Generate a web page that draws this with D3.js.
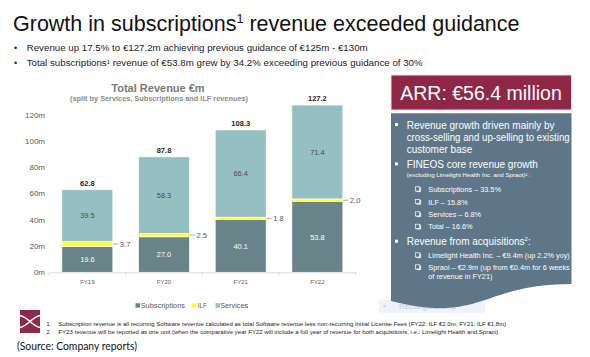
<!DOCTYPE html>
<html>
<head>
<meta charset="utf-8">
<script src="https://cdn.jsdelivr.net/npm/d3@7"></script>
<style>
html,body{margin:0;padding:0;background:#fff;}
svg{display:block;font-family:"Liberation Sans",Arial,sans-serif;}
</style>
</head>
<body>
<script>
// ---- data ----
const categories = ["FY19", "FY20", "FY21", "FY22"];
const subscriptions = [19.6, 27.0, 40.1, 53.8];
const ilf = [3.7, 2.5, 1.8, 2.0];
const services = [39.5, 58.3, 66.4, 71.4];
const totals = [62.8, 87.8, 108.3, 127.2];
const yTicks = [0, 20, 40, 60, 80, 100, 120];
const seriesNames = ["Subscriptions", "ILF", "Services"];

const W = 590, H = 357;
const svg = d3.select("body").append("svg").attr("width", W).attr("height", H);

const colors = {Subscriptions: "#698488", ILF: "#ffff3c", Services: "#95bfc1"};

// ---- heading ----
const title = svg.append("text").attr("x", 13).attr("y", 30.5)
  .attr("font-size", 21.5).attr("fill", "#111");
title.append("tspan").text("Growth in subscriptions");
title.append("tspan").text("1").attr("font-size", 12.5).attr("dy", -8);
title.append("tspan").text(" revenue exceeded guidance").attr("dy", 8);

const bullets = [
  {t: "Revenue up 17.5% to €127.2m achieving previous guidance of €125m - €130m", y: 50.8, len: 341},
  {t: "Total subscriptions¹ revenue of €53.8m grew by 34.2% exceeding previous guidance of 30%", y: 66.4, len: 396}
];
bullets.forEach(b => {
  svg.append("text").attr("x", 14).attr("y", b.y).attr("font-size", 9).attr("fill", "#222").text("•");
  svg.append("text").attr("x", 26.7).attr("y", b.y).attr("font-size", 9.2).attr("fill", "#222")
    .attr("textLength", b.len).attr("lengthAdjust", "spacingAndGlyphs").text(b.t);
});

// ---- chart ----
const x = d3.scaleBand().domain(categories).range([49, 355.7]).paddingInner(0.335).paddingOuter(0.1675);
const y = d3.scaleLinear().domain([0, 120]).range([272.3, 114.5]);

svg.append("text").attr("x", 158).attr("y", 92.3).attr("text-anchor", "middle")
  .attr("font-size", 11).attr("font-weight", "bold").attr("fill", "#7a7a7a").text("Total Revenue €m");
svg.append("text").attr("x", 159).attr("y", 101.2).attr("text-anchor", "middle")
  .attr("font-size", 6.3).attr("font-weight", "bold").attr("fill", "#8a8a8a")
  .attr("textLength", 178).attr("lengthAdjust", "spacingAndGlyphs")
  .text("(split by Services, Subscriptions and ILF revenues)");

// y axis
const yAxis = d3.axisLeft(y).tickValues(yTicks).tickFormat(d => d + "m").tickSize(0).tickPadding(4);
const gy = svg.append("g").attr("transform", "translate(49,0)").call(yAxis);
gy.select(".domain").remove();
gy.selectAll("text").attr("font-size", 8).attr("fill", "#595959").attr("font-family", "Liberation Sans, Arial, sans-serif");

// x axis
const xAxis = d3.axisBottom(x).tickSize(0).tickPadding(7);
const gx = svg.append("g").attr("transform", `translate(0,${y(0)})`).call(xAxis);
gx.select(".domain").attr("stroke", "#d9d9d9");
gx.selectAll("text").attr("font-size", 6).attr("fill", "#595959").attr("font-family", "Liberation Sans, Arial, sans-serif");
const step = x.step();
const boundaries = d3.range(categories.length + 1).map(i => x(categories[0]) - x.paddingOuter() * step - 0 + i * step - (i === 0 ? 0 : 0));
// boundaries between categories
const b0 = x.range()[0];
d3.range(categories.length + 1).forEach(i => {
  svg.append("line").attr("x1", b0 + i * step).attr("x2", b0 + i * step)
    .attr("y1", y(0)).attr("y2", y(0) + 3).attr("stroke", "#d9d9d9");
});

// stacked bars
const table = categories.map((c, i) => ({cat: c, Subscriptions: subscriptions[i], ILF: ilf[i], Services: services[i]}));
const stacked = d3.stack().keys(seriesNames)(table);
svg.append("g").selectAll("g").data(stacked).join("g")
  .attr("fill", d => colors[d.key])
  .selectAll("rect").data(d => d).join("rect")
  .attr("x", d => x(d.data.cat))
  .attr("width", x.bandwidth())
  .attr("y", d => y(d[1]))
  .attr("height", d => y(d[0]) - y(d[1]))
  .attr("stroke", "#fff").attr("stroke-width", 0.7);

// inner labels
stacked.forEach(s => {
  if (s.key === "ILF") return;
  s.forEach(d => {
    svg.append("text").attr("x", x(d.data.cat) + x.bandwidth() / 2)
      .attr("y", (y(d[0]) + y(d[1])) / 2 + 2.7)
      .attr("text-anchor", "middle").attr("font-size", 7.4)
      .attr("fill", s.key === "Subscriptions" ? "#ffffff" : "#4a4a4a")
      .text(d.data[s.key].toFixed(1));
  });
});

// ILF leader labels
stacked[1].forEach(d => {
  const yc = (y(d[0]) + y(d[1])) / 2;
  const xr = x(d.data.cat) + x.bandwidth();
  svg.append("line").attr("x1", xr + 0.5).attr("x2", xr + 5.5).attr("y1", yc).attr("y2", yc)
    .attr("stroke", "#8c8c8c").attr("stroke-width", 0.7);
  svg.append("text").attr("x", xr + 7).attr("y", yc + 2.7).attr("font-size", 7.6)
    .attr("fill", "#595959").text(d.data.ILF.toFixed(1));
});

// totals
categories.forEach((c, i) => {
  svg.append("text").attr("x", x(c) + x.bandwidth() / 2).attr("y", y(totals[i]) - 4)
    .attr("text-anchor", "middle").attr("font-size", 7.5).attr("font-weight", "bold")
    .attr("fill", "#262626").text(totals[i].toFixed(1));
});

// legend
const legendPos = [{sx: 135.5, tx: 140.7, w: 44.3}, {sx: 192, tx: 197.8, w: 9}, {sx: 215.5, tx: 220.2, w: 28}];
seriesNames.forEach((n, i) => {
  const p = legendPos[i];
  svg.append("rect").attr("x", p.sx).attr("y", 303.2).attr("width", 4.5).attr("height", 4.5).attr("fill", colors[n]);
  svg.append("text").attr("x", p.tx).attr("y", 308.4).attr("font-size", 7.4).attr("fill", "#595959")
    .attr("textLength", p.w).attr("lengthAdjust", "spacingAndGlyphs").text(n);
});

// ---- right panel ----
// faint snip artifact
svg.append("rect").attr("x", 379).attr("y", 300).attr("width", 106).attr("height", 12.7).attr("fill", "#eef3fb");
svg.append("circle").attr("cx", 384.5).attr("cy", 306.3).attr("r", 1.3).attr("fill", "#f3c7cf");
svg.append("text").attr("x", 399).attr("y", 309).attr("font-size", 7.5).attr("fill", "#c5cad6").text("Rectangular Snip");

// blue document shape
svg.append("path")
  .attr("d", "M391,113.3 H571.5 V284 C481,284 481,324 391,301 Z")
  .attr("fill", "#5e7687");

// ARR box
svg.append("rect").attr("x", 391).attr("y", 75).attr("width", 180.5).attr("height", 35)
  .attr("fill", "#8e2846").attr("stroke", "#f3dde3").attr("stroke-width", 1);
svg.append("text").attr("x", 481).attr("y", 99.5).attr("text-anchor", "middle")
  .attr("font-size", 19.5).attr("fill", "#ffffff").text("ARR: €56.4 million");

const panel = svg.append("g").attr("fill", "#ffffff");
const mainLines = [
  {t: "Revenue growth driven mainly by", y: 128.6, bullet: true},
  {t: "cross-selling and up-selling to existing", y: 140.6, len: 163},
  {t: "customer base", y: 152.6},
  {t: "FINEOS core revenue growth", y: 167.9, bullet: true}
];
mainLines.forEach(l => {
  if (l.bullet) panel.append("rect").attr("x", 395).attr("y", l.y - 5.5).attr("width", 3).attr("height", 3);
  const t = panel.append("text").attr("x", 406.7).attr("y", l.y).attr("font-size", 10).text(l.t);
  if (l.len) t.attr("textLength", l.len).attr("lengthAdjust", "spacingAndGlyphs");
});
panel.append("text").attr("x", 406.7).attr("y", 177).attr("font-size", 5)
  .attr("textLength", 124).attr("lengthAdjust", "spacingAndGlyphs")
  .text("(excluding Limelight Health Inc. and Spraoi)² :");

const subItems = [
  {t: "Subscriptions – 33.5%", y: 192, box: true},
  {t: "ILF – 15.8%", y: 204.6, box: true},
  {t: "Services – 6.8%", y: 217, box: true},
  {t: "Total – 16.6%", y: 229.4, box: true},
  {t: "Limelight Health Inc. – €9.4m (up 2.2% yoy)", y: 258, box: true, len: 141.5},
  {t: "Spraoi – €2.9m (up from €0.4m for 6 weeks", y: 270, box: true, len: 141.5},
  {t: "of revenue in FY21)", y: 279.4}
];
subItems.forEach(s => {
  if (s.box) {
    panel.append("rect").attr("x", 415.5).attr("y", s.y - 5.2).attr("width", 4.2).attr("height", 4.2)
      .attr("fill", "none").attr("stroke", "#fff").attr("stroke-width", 0.7);
    panel.append("path").attr("d", `M${416.5},${s.y - 0.4} H${420.6} V${s.y - 4.6}`)
      .attr("fill", "none").attr("stroke", "#fff").attr("stroke-width", 0.9);
  }
  const t = panel.append("text").attr("x", 428.3).attr("y", s.y).attr("font-size", 7.3).text(s.t);
  if (s.len) t.attr("textLength", s.len).attr("lengthAdjust", "spacingAndGlyphs");
});
panel.append("rect").attr("x", 395).attr("y", 239.7).attr("width", 3).attr("height", 3);
const acq = panel.append("text").attr("x", 406.7).attr("y", 245.2).attr("font-size", 10);
acq.append("tspan").text("Revenue from acquisitions");
acq.append("tspan").text("2").attr("font-size", 6).attr("dy", -4);
acq.append("tspan").text(":").attr("dy", 4);

// ---- footer ----
const logo = svg.append("g");
logo.append("rect").attr("x", 20).attr("y", 310).attr("width", 20).attr("height", 23).attr("fill", "#8e2846");
logo.append("path").attr("d", "M20,315.5 C28,317 32,326 40,327.5").attr("fill", "none").attr("stroke", "#fff").attr("stroke-width", 1.6);
logo.append("path").attr("d", "M20,327.5 C28,326 32,317 40,315.5").attr("fill", "none").attr("stroke", "#fff").attr("stroke-width", 1.6);

const notes = [
  {n: "1.", t: "Subscription revenue is all recurring Software revenue calculated as total Software revenue less non-recurring Initial License Fees (FY22: ILF €2.0m, FY21: ILF €1.8m)", y: 326, len: 448},
  {n: "2.", t: "FY23 revenue will be reported as one unit (when the comparative year FY22 will include a full year of revenue for both acquisitions, i.e.: Limelight Health and Spraoi)", y: 334, len: 440}
];
notes.forEach(n => {
  svg.append("text").attr("x", 46.5).attr("y", n.y).attr("font-size", 5.5).attr("fill", "#222").text(n.n);
  svg.append("text").attr("x", 58.3).attr("y", n.y).attr("font-size", 5.5).attr("fill", "#222")
    .attr("textLength", n.len).attr("lengthAdjust", "spacingAndGlyphs").text(n.t);
});

svg.append("text").attr("x", 17).attr("y", 350).attr("font-size", 11)
  .attr("font-family", "Lato, 'Open Sans', sans-serif").attr("fill", "#111")
  .attr("textLength", 120).attr("lengthAdjust", "spacingAndGlyphs")
  .text("(Source: Company reports)");
</script>
</body>
</html>
